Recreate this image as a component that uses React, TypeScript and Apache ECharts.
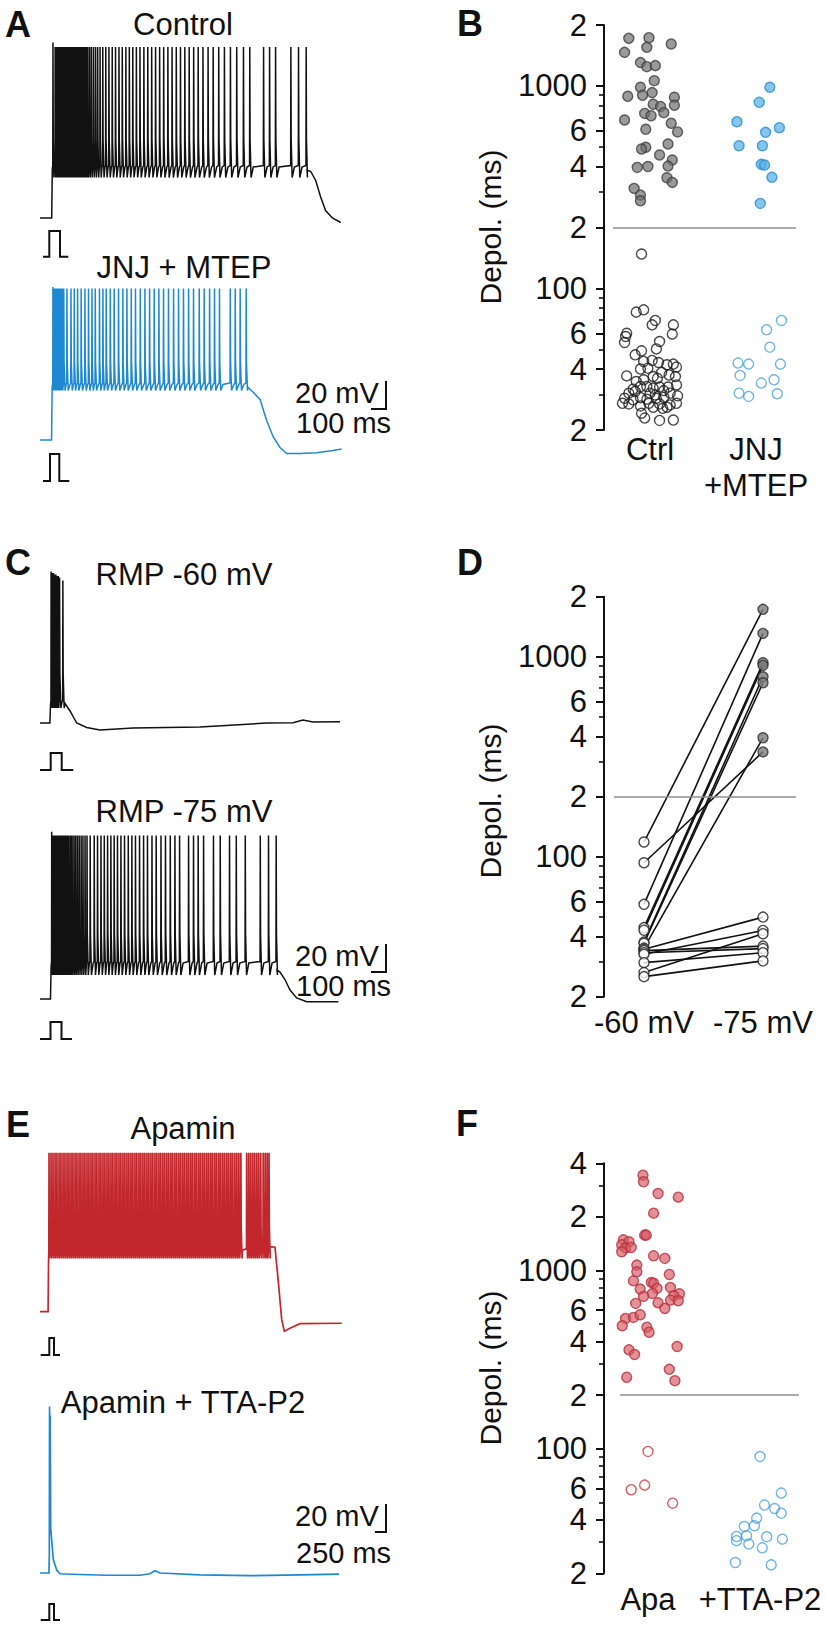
import React, { useEffect, useRef } from "react";
import * as echarts from "echarts";

const FONT = '"Liberation Sans", Arial, Helvetica, sans-serif';
const INK = "#111111";

// ---------------- Panel A: Control trace (time in ms, potential in mV) ----------------
const ctrlSpikesMs = [85, 100, 109, 117, 126, 135, 143, 152, 161, 169, 178, 187, 195, 204, 213, 221, 230, 239, 247, 256, 265, 273, 282, 291, 299, 308, 317, 329, 341, 355, 369, 383, 399, 417, 437, 458, 480, 502, 525, 547, 571, 594, 617, 641, 665, 691, 717, 743, 769, 796, 823, 851, 879, 907, 935, 964, 993, 1023, 1053, 1085, 1119, 1153, 1190, 1228, 1268, 1310, 1355, 1397, 1489, 1529, 1569, 1671, 1722, 1773];
const ctrlPre = [[0, -75], [78, -75], [82, -42]];
const ctrlPost = [[1780, -43], [1805, -44], [1838, -50], [1871, -61], [1904, -70], [1949, -75], [2005, -78]];
const ctrlPeakMv = 39;
const ctrlFirstPeakMv = 42;
const ctrlThrMv = -40;
const ctrlTroughMv = -48;

// ---------------- Panel A: JNJ + MTEP trace ----------------
const jnjSpikesMs = [85, 95, 104, 113, 121, 130, 139, 147, 157, 178, 205, 227, 249, 273, 298, 322, 345, 367, 395, 418, 440, 467, 493, 522, 551, 578, 607, 635, 667, 698, 729, 760, 791, 822, 855, 889, 922, 955, 989, 1022, 1060, 1093, 1129, 1162, 1195, 1267, 1300, 1333, 1373];
const jnjPre = [[0, -75], [77, -75], [81, -40]];
const jnjPost = [[1387, -40], [1420, -43], [1467, -48], [1511, -62], [1555, -73], [1600, -80], [1645, -84], [1733, -84], [1845, -83.5], [1953, -82], [2011, -81]];
const jnjPeakMv = 26;
const jnjFirstPeakMv = 27;
const jnjThrMv = -37;
const jnjTroughMv = -42;

// ---------------- Panel C: RMP -60 mV ----------------
const rmp60SpikesMs = [73, 81, 89, 97, 105, 113, 121, 129, 151];
const rmp60PeaksMv = [41, 40, 40, 39, 39, 38, 38, 37, 35];
const rmp60Pre = [[0, -60], [66, -60], [70, -48]];
const rmp60Post = [[167, -47], [200, -52], [245, -60], [311, -63], [400, -64.7], [620, -63.3], [1067, -62.7], [1511, -60], [1687, -59.8], [1753, -58], [1820, -59.3], [2000, -59.1]];
const rmp60ThrMv = -45;
const rmp60TroughMv = -50;

// ---------------- Panel C: RMP -75 mV ----------------
const rmp75SpikesMs = [77, 87, 95, 104, 113, 121, 130, 139, 147, 156, 165, 173, 182, 192, 203, 213, 225, 236, 248, 260, 273, 285, 299, 312, 333, 360, 382, 405, 427, 449, 471, 493, 515, 538, 562, 587, 611, 635, 662, 689, 715, 745, 773, 805, 835, 867, 898, 929, 989, 1022, 1053, 1089, 1155, 1200, 1262, 1307, 1367, 1467, 1522, 1573];
const rmp75Pre = [[0, -75], [70, -75], [74, -53]];
const rmp75Post = [[1580, -55.7], [1600, -57], [1633, -62], [1667, -69], [1711, -74.3], [1778, -76.8], [1989, -76.8]];
const rmp75PeakMv = 34;
const rmp75FirstPeakMv = 36.5;
const rmp75ThrMv = -50;
const rmp75TroughMv = -59;

// ---------------- Panel E: Apamin ----------------
const apaSpikesMs = [196, 241, 284, 330, 372, 419, 461, 507, 550, 596, 639, 685, 727, 774, 816, 863, 905, 951, 994, 1040, 1083, 1129, 1171, 1218, 1260, 1307, 1349, 1395, 1438, 1484, 1527, 1573, 1615, 1662, 1704, 1751, 1793, 1839, 1882, 1928, 1971, 2017, 2059, 2106, 2148, 2195, 2237, 2283, 2326, 2372, 2415, 2461, 2503, 2550, 2592, 2639, 2681, 2727, 2770, 2816, 2859, 2905, 2947, 2994, 3036, 3083, 3125, 3171, 3214, 3260, 3303, 3349, 3391, 3438, 3480, 3527, 3569, 3615, 3658, 3704, 3747, 3793, 3835, 3882, 3924, 3971, 4013, 4059, 4102, 4148, 4191, 4237, 4279, 4326, 4370, 4415, 4459, 4588, 4633, 4677, 4722, 4766, 4811, 4855, 4900, 4955, 5000, 5044, 5084];
const apaPre = [[0, -75], [180, -75], [190, -42]];
const apaPost = [[5110, -31.7], [5222, -32], [5296, -55], [5370, -80], [5429, -88], [5555, -86], [5778, -83], [6704, -82.7]];
const apaPeakMv = 31;
const apaThrMv = -33;
const apaTroughMv = -39.5;

// ---------------- Panel E: Apamin + TTA-P2 ----------------
const ttaTrace = [[0, -75], [200, -75], [207, -62], [212, 36], [220, -15], [226, 30], [238, -45], [260, -53], [296, -66], [371, -73], [444, -75.5], [889, -76], [1500, -76.5], [2222, -76.5], [2444, -75.5], [2555, -73.5], [2667, -75], [3555, -76.3], [4667, -76.8], [5778, -76.3], [6644, -75.7]];

// ---------------- Panel B: depolarization durations (ms) ----------------
const bCtrlHigh = [1718, 1731, 1551, 1612, 1465, 1304, 1245, 1260, 1062, 985, 899, 927, 889, 879, 803, 812, 791, 738, 732, 713, 679, 654, 611, 593, 517, 498, 488, 456, 431, 402, 396, 400, 352, 334, 312, 289, 271];
const bCtrlHighJit = [-0.2, -0.01, -0.03, 0.2, -0.24, -0.09, -0.03, 0.05, 0.04, -0.09, -0.07, 0.02, -0.21, 0.23, 0.23, 0.03, 0.1, 0.13, -0.05, 0.01, -0.24, 0.2, -0.04, 0.26, 0.17, -0.04, -0.08, 0.09, 0.21, 0.17, -0.12, -0.02, 0.16, 0.21, -0.15, -0.09, -0.09];
const bCtrlLow = [148, 76.4, 78.4, 69.5, 66.1, 66.1, 59.5, 60.1, 54.1, 57.9, 54.7, 50.3, 49.2, 47, 44.1, 43.6, 40, 40.4, 43.1, 42, 42.3, 40.9, 37, 34.7, 35.4, 36.7, 36, 38.5, 37.4, 36.7, 31.8, 32.8, 32.8, 32.2, 32.6, 32.6, 33.4, 30.4, 31, 30.4, 29.8, 31.3, 30.4, 28.7, 28.2, 28.9, 28.4, 28.7, 29, 29.5, 27.1, 26.9, 26.3, 27.1, 26.9, 26.6, 27.1, 24.2, 25.9, 25.6, 25.9, 22.9, 22.3, 22.4];
const bCtrlLowJit = [-0.08, -0.13, -0.06, 0.05, 0.02, 0.22, 0.21, -0.22, -0.24, -0.23, 0.09, 0.06, -0.08, -0.14, 0.02, -0.06, -0.09, -0.02, 0.08, 0.16, 0.22, 0.25, -0.22, -0.13, -0.06, 0.03, 0.07, 0.11, 0.18, 0.24, -0.16, -0.09, -0.03, 0.03, 0.09, 0.17, 0.25, -0.2, -0.14, 0, 0.05, 0.13, 0.19, -0.24, -0.16, -0.09, -0.03, 0.06, 0.13, 0.26, -0.26, -0.2, -0.09, -0.01, 0.09, 0.19, 0.25, -0.08, 0.03, 0.12, 0.16, -0.05, 0.09, 0.22];
const bJnjHigh = [985, 830, 666, 622, 590, 507, 507, 410, 407, 354, 263];
const bJnjHighJit = [0.13, 0.03, -0.18, 0.22, 0.09, -0.16, 0.06, 0.05, 0.08, 0.15, 0.04];
const bJnjLow = [69.5, 62.5, 51.3, 42.8, 42.3, 42.3, 37.2, 35.4, 34.1, 30.4, 29.3, 30.2];
const bJnjLowJit = [0.24, 0.1, 0.13, -0.17, -0.07, 0.23, -0.15, 0.17, 0.05, -0.16, -0.07, 0.2];
const bCategories = ["Ctrl", "JNJ\n+MTEP"];

// ---------------- Panel D: paired cells ----------------
const dAt60 = [118.7, 93.5, 57.9, 44.3, 43.0, 37.5, 37.0, 35.0, 34.5, 34.0, 33.2, 32.6, 29.6, 26.4, 25.2];
const dAt75 = [1729, 335, 1311, 935, 907, 796, 743, 394, 50, 35.8, 34.8, 42.9, 33.2, 41.3, 30.2];
const dCategories = ["-60 mV", "-75 mV"];

// ---------------- Panel F ----------------
const fApaHigh = [4078, 3432, 3150, 2708, 2583, 2100, 1581, 1581, 1488, 1451, 1395, 1337, 1348, 1275, 1210, 1170, 1073, 984, 951, 876, 858, 850, 794, 787, 804, 741, 744, 716, 722, 683, 677, 654, 659, 613, 539, 546, 565, 490, 481, 451, 359, 338, 375, 279, 252, 241];
const fApaHighJit = [-0.06, -0.045, -0.04, 0.09, 0.27, 0.05, -0.03, -0.015, -0.22, -0.17, -0.235, -0.2, -0.15, -0.235, 0.05, 0.15, -0.1, -0.1, 0.19, -0.13, 0.03, 0.05, 0.08, -0.07, 0.2, 0.28, 0.04, -0.04, 0.23, 0.2, 0.27, -0.11, 0.09, 0.15, -0.2, -0.13, -0.07, -0.23, -0.01, 0.01, -0.17, -0.12, 0.26, 0.19, -0.19, 0.24];
const fApaLow = [96.6, 62.5, 58.9, 49.5];
const fApaLowJit = [0, -0.03, -0.15, 0.22];
const fTtaLow = [90.5, 56.4, 48.3, 46.2, 43.5, 40.8, 36.6, 37, 32.2, 32.5, 32.1, 30.5, 29.2, 31.1, 27.8, 23, 22.3];
const fTtaLowJit = [0, 0.19, 0.04, 0.13, 0.19, -0.03, -0.14, -0.05, -0.21, -0.12, 0.06, -0.21, -0.1, 0.2, 0.02, -0.22, 0.1];
const fCategories = ["Apa", "+TTA-P2"];

// ---------------- axis ticks ----------------
const thresholdMs = 200;
const ticksB = [20, 40, 60, 100, 200, 400, 600, 1000, 2000];
const tickLabelsB = ["2", "4", "6", "100", "2", "4", "6", "1000", "2"];
const minorB = [30, 50, 70, 80, 90, 300, 500, 700, 800, 900];
const ticksF = [20, 40, 60, 100, 200, 400, 600, 1000, 2000, 4000];
const tickLabelsF = ["2", "4", "6", "100", "2", "4", "6", "1000", "2", "4"];
const minorF = [30, 50, 70, 80, 90, 300, 500, 700, 800, 900, 3000];

const lg = (v: number) => Math.log10(v);

// builds a membrane-potential polyline from the spike times
function buildTrace(
  pre: number[][], spikes: number[], peak: number, firstPeak: number, thr: number, trough: number,
  post: number[][], shape: number[], peaks?: number[]
) {
  const [upMs, d1Ms, d2Ms, recMs] = shape;
  const out: number[][] = pre.map((p) => [p[0], p[1]]);
  for (let i = 0; i < spikes.length; i++) {
    const t = spikes[i];
    const hasNext = i + 1 < spikes.length;
    const gap = hasNext ? spikes[i + 1] - t : d2Ms * 2;
    const pk = peaks ? peaks[i] : i === 0 ? firstPeak : peak;
    out.push([t, thr]);
    out.push([t + Math.min(upMs, gap * 0.1), pk]);
    out.push([t + Math.min(d1Ms, gap * 0.25), thr + 0.22 * (pk - thr)]);
    out.push([t + Math.min(d2Ms, gap * 0.5), trough]);
    if (hasNext) out.push([t + Math.min(recMs, gap * 0.8), thr - 1]);
  }
  post.forEach((p) => out.push([p[0], p[1]]));
  return out;
}

const pts = (vals: number[], jit: number[], cat: number) => vals.map((v, i) => [cat + jit[i], lg(v)]);

function yMajor(gridIndex: number, maxV: number, ticks: number[], labels: string[]) {
  const tv = ticks.map(lg);
  return {
    type: "value", gridIndex, min: lg(20), max: lg(maxV), position: "left",
    splitLine: { show: false },
    axisLine: { show: true, onZero: false, lineStyle: { color: INK, width: 2 } },
    axisTick: { show: true, inside: false, length: 8, customValues: tv, lineStyle: { color: INK, width: 2 } },
    axisLabel: {
      show: true, customValues: tv, margin: 17, fontSize: 31, fontFamily: FONT, color: INK,
      formatter: (v: number) => {
        const i = tv.findIndex((t) => Math.abs(t - v) < 1e-6);
        return i >= 0 ? labels[i] : "";
      },
    },
  };
}
function yMinor(gridIndex: number, maxV: number, ticks: number[]) {
  return {
    type: "value", gridIndex, min: lg(20), max: lg(maxV), position: "left",
    splitLine: { show: false },
    axisLine: { show: false, onZero: false },
    axisTick: { show: true, inside: false, length: 5, customValues: ticks.map(lg), lineStyle: { color: INK, width: 1.6 } },
    axisLabel: { show: false },
  };
}
function xCat(gridIndex: number, min: number, max: number, labels: string[], margin: number) {
  return {
    type: "value", gridIndex, min, max,
    axisLine: { show: false }, axisTick: { show: false }, splitLine: { show: false },
    axisLabel: {
      show: true, customValues: [1, 2], margin, fontSize: 31, lineHeight: 36, fontFamily: FONT, color: INK,
      formatter: (v: number) => labels[Math.round(v) - 1],
    },
  };
}
const hiddenX = (gridIndex: number, max: number) => ({ type: "value", gridIndex, min: 0, max, show: false });
const hiddenY = (gridIndex: number) => ({ type: "value", gridIndex, min: -100, max: 60, show: false });

const traceSeries = (idx: number, data: number[][], color: string, width = 1.5) => ({
  type: "line", xAxisIndex: idx, yAxisIndex: idx, data, symbol: "none", showSymbol: false,
  lineStyle: { color, width, join: "miter" }, silent: true, animation: false, z: 2,
});

const scatter = (axis: number, data: number[][], color: string, border: string, z = 4) => ({
  type: "scatter", xAxisIndex: axis, yAxisIndex: axis, data, symbol: "circle", symbolSize: 10,
  itemStyle: { color, borderColor: border, borderWidth: 1.4 }, silent: true, z,
});

const refLine = (xStart: number, xEnd: number) => ({
  silent: true, symbol: ["none", "none"], label: { show: false },
  lineStyle: { color: "#8f8f8f", width: 1.6, type: "solid" },
  emphasis: { disabled: true },
  data: [[{ coord: [xStart, lg(thresholdMs)] }, { coord: [xEnd, lg(thresholdMs)] }]],
});

function txt(x: number, y: number, text: string, opts: any = {}) {
  const align = opts.align || "center";
  return {
    type: "text", x, y, rotation: opts.rotation || 0, silent: true,
    style: {
      text, fontSize: opts.size || 31, fontFamily: FONT, fontWeight: opts.bold ? "bold" : "normal",
      fill: INK, align, textAlign: align, verticalAlign: "middle", textVerticalAlign: "middle",
    },
  };
}
const poly = (points: number[][]) => ({
  type: "polyline", silent: true, shape: { points }, style: { stroke: INK, lineWidth: 2, fill: null },
});
const seg = (x1: number, y1: number, x2: number, y2: number) => ({
  type: "line", silent: true, shape: { x1, y1, x2, y2 }, style: { stroke: INK, lineWidth: 2 },
});

export default function App() {
  const ref = useRef<HTMLDivElement>(null);
  useEffect(() => {
    if (!ref.current) return;
    const chart = echarts.init(ref.current, null, { renderer: "svg" });

    const shapeAC = [1.5, 3.5, 10, 25];
    const shapeE = [5, 12, 32, 40];
    const ctrlData = buildTrace(ctrlPre, ctrlSpikesMs, ctrlPeakMv, ctrlFirstPeakMv, ctrlThrMv, ctrlTroughMv, ctrlPost, shapeAC);
    const jnjData = buildTrace(jnjPre, jnjSpikesMs, jnjPeakMv, jnjFirstPeakMv, jnjThrMv, jnjTroughMv, jnjPost, shapeAC);
    const r60Data = buildTrace(rmp60Pre, rmp60SpikesMs, 39, 39, rmp60ThrMv, rmp60TroughMv, rmp60Post, shapeAC, rmp60PeaksMv);
    const r75Data = buildTrace(rmp75Pre, rmp75SpikesMs, rmp75PeakMv, rmp75FirstPeakMv, rmp75ThrMv, rmp75TroughMv, rmp75Post, shapeAC);
    const apaData = buildTrace(apaPre, apaSpikesMs, apaPeakMv, apaPeakMv, apaThrMv, apaTroughMv, apaPost, shapeE);

    const dLines = dAt60.map((l, i) => ({
      type: "line", xAxisIndex: 7, yAxisIndex: 7, data: [[1, lg(l)], [2, lg(dAt75[i])]],
      symbol: "none", showSymbol: false, lineStyle: { color: INK, width: 1.6 }, silent: true, z: 2,
    }));
    const dRightHigh: number[][] = [];
    const dRightLow: number[][] = [];
    dAt75.forEach((v) => (v >= thresholdMs ? dRightHigh : dRightLow).push([2, lg(v)]));

    const option: any = {
      animation: false,
      backgroundColor: "#ffffff",
      grid: [
        { left: 40, top: 15.5, width: 360, height: 240 },
        { left: 40, top: 237.5, width: 360, height: 240 },
        { left: 40, top: 543, width: 360, height: 240 },
        { left: 40, top: 796.5, width: 360, height: 240 },
        { left: 40, top: 1109.2, width: 360, height: 240 },
        { left: 40, top: 1370.5, width: 360, height: 240 },
        { left: 604, top: 25, width: 192, height: 405 },
        { left: 604, top: 596.7, width: 192, height: 400 },
        { left: 604, top: 1163.3, width: 195, height: 410 },
      ].map((g) => ({ ...g, containLabel: false, outerBoundsMode: "none", show: false })),
      xAxis: [
        hiddenX(0, 2400), hiddenX(1, 2400), hiddenX(2, 2400), hiddenX(3, 2400), hiddenX(4, 8000), hiddenX(5, 8000),
        xCat(6, 0.566, 2.377, bCategories, 1),
        xCat(7, 0.6639, 2.2773, dCategories, 8),
        xCat(8, 0.6071, 2.3482, fCategories, 8),
      ],
      yAxis: [
        hiddenY(0), hiddenY(1), hiddenY(2), hiddenY(3), hiddenY(4), hiddenY(5),
        yMajor(6, 2000, ticksB, tickLabelsB),
        yMajor(7, 2000, ticksB, tickLabelsB),
        yMajor(8, 4000, ticksF, tickLabelsF),
        yMinor(6, 2000, minorB),
        yMinor(7, 2000, minorB),
        yMinor(8, 4000, minorF),
      ],
      series: [
        traceSeries(0, ctrlData, "#111111"),
        traceSeries(1, jnjData, "#1f88d2"),
        traceSeries(2, r60Data, "#111111"),
        traceSeries(3, r75Data, "#111111"),
        traceSeries(4, apaData, "#c1272d", 1.7),
        traceSeries(5, ttaTrace, "#1f88d2", 1.7),
        // B
        { ...scatter(6, pts(bCtrlHigh, bCtrlHighJit, 1), "rgba(112,112,112,0.88)", "#3d3d3d"), markLine: refLine(0.651, 2.377) },
        scatter(6, pts(bCtrlLow, bCtrlLowJit, 1), "rgba(255,255,255,0)", "#1a1a1a"),
        scatter(6, pts(bJnjHigh, bJnjHighJit, 2), "rgba(86,176,228,0.9)", "#2a8ccd"),
        scatter(6, pts(bJnjLow, bJnjLowJit, 2), "rgba(255,255,255,0)", "#4aa3dd"),
        // D
        ...dLines,
        { ...scatter(7, dAt60.map((v) => [1, lg(v)]), "#ffffff", "#1a1a1a"), markLine: refLine(0.748, 2.2773) },
        scatter(7, dRightHigh, "#7a7a7a", "#2d2d2d"),
        scatter(7, dRightLow, "#ffffff", "#1a1a1a"),
        // F
        { ...scatter(8, pts(fApaHigh, fApaHighJit, 1), "rgba(214,92,102,0.85)", "#b5303c"), markLine: refLine(0.75, 2.3482) },
        scatter(8, pts(fApaLow, fApaLowJit, 1), "rgba(255,255,255,0)", "#d0323f"),
        scatter(8, pts(fTtaLow, fTtaLowJit, 2), "rgba(255,255,255,0)", "#4aa3dd"),
      ],
      graphic: {
        elements: [
          txt(18, 24, "A", { bold: true, size: 36 }),
          txt(470, 23, "B", { bold: true, size: 36 }),
          txt(18, 562, "C", { bold: true, size: 36 }),
          txt(470, 562, "D", { bold: true, size: 36 }),
          txt(18, 1124, "E", { bold: true, size: 36 }),
          txt(467, 1123, "F", { bold: true, size: 36 }),
          txt(183, 24, "Control"),
          txt(184, 267, "JNJ + MTEP"),
          txt(184, 574, "RMP -60 mV"),
          txt(184, 811, "RMP -75 mV"),
          txt(183, 1128, "Apamin"),
          txt(183, 1402, "Apamin + TTA-P2"),
          txt(295, 393, "20 mV", { align: "left", size: 29 }),
          txt(296, 423, "100 ms", { align: "left", size: 29 }),
          txt(295, 956, "20 mV", { align: "left", size: 29 }),
          txt(296, 986, "100 ms", { align: "left", size: 29 }),
          txt(295, 1516, "20 mV", { align: "left", size: 29 }),
          txt(296, 1553, "250 ms", { align: "left", size: 29 }),
          txt(490, 227, "Depol. (ms)", { rotation: Math.PI / 2, size: 30 }),
          txt(490, 801, "Depol. (ms)", { rotation: Math.PI / 2, size: 30 }),
          txt(490, 1368, "Depol. (ms)", { rotation: Math.PI / 2, size: 30 }),
          seg(386, 381, 386, 409), seg(371, 409, 387, 409),
          seg(386, 944, 386, 972), seg(371, 972, 387, 972),
          seg(386, 1504, 386, 1532), seg(375, 1532, 387, 1532),
          poly([[43, 256.7], [49.3, 256.7], [49.3, 231], [60, 231], [60, 256.7], [68.3, 256.7]]),
          poly([[43, 481], [50, 481], [50, 454], [59.3, 454], [59.3, 481], [69.3, 481]]),
          poly([[40, 770], [50.7, 770], [50.7, 753], [61.7, 753], [61.7, 770], [73.3, 770]]),
          poly([[40, 1039], [50.5, 1039], [50.5, 1022], [61.5, 1022], [61.5, 1039], [72, 1039]]),
          poly([[40.7, 1355], [49.3, 1355], [49.3, 1338], [54, 1338], [54, 1355], [60, 1355]]),
          poly([[40.7, 1620], [49.3, 1620], [49.3, 1604], [54, 1604], [54, 1620], [60, 1620]]),
        ],
      },
    };
    chart.setOption(option);
    return () => chart.dispose();
  }, []);
  return (
    <div
      ref={ref}
      style={{ position: "absolute", left: 0, top: 0, width: 826, height: 1626, background: "#ffffff" }}
    />
  );
}
